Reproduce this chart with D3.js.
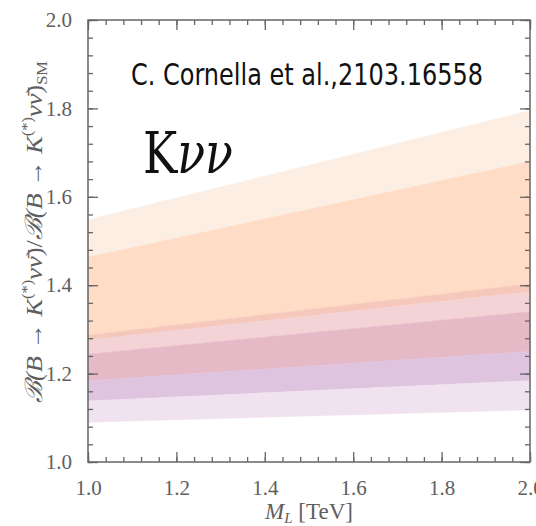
<!DOCTYPE html>
<html>
<head>
<meta charset="utf-8">
<script src="https://cdn.jsdelivr.net/npm/d3@7"></script>
<style>
  html, body { margin: 0; padding: 0; background: #fff; }
  svg { display: block; }
</style>
</head>
<body>
<div id="container"></div>
<script>
// M_L end points of every band (TeV)
const massPoints = [1.0, 2.0];

// band edges, value at M_L = 1.0 and 2.0
const lightPeachTop = [1.548, 1.795];
const peachTop = [1.463, 1.68];
const peachBottom = [1.287, 1.403];
const salmonBottom = [1.276, 1.385];
const pinkBottom = [1.244, 1.34];
const mauveBottom = [1.184, 1.25];
const lilacBottom = [1.138, 1.184];
const lavenderBottom = [1.09, 1.118];

const bandColors = ['#fdeee3', '#fedcc5', '#f6c8bb', '#f3d3d6', '#e6b9c7', '#dfc4df', '#f0e2ef'];
const bandEdges = [lightPeachTop, peachTop, peachBottom, salmonBottom, pinkBottom, mauveBottom, lilacBottom, lavenderBottom];

const xTicks = [1.0, 1.2, 1.4, 1.6, 1.8, 2.0];
const yTicks = [1.0, 1.2, 1.4, 1.6, 1.8, 2.0];

const WIDTH = 536;
const HEIGHT = 526;
const margin = { top: 20, right: 6, bottom: 64, left: 88 };
const innerW = WIDTH - margin.left - margin.right;
const innerH = HEIGHT - margin.top - margin.bottom;

const AXIS_COLOR = '#666';
const LABEL_COLOR = '#5e5e5e';
const SERIF = '"Liberation Serif", "DejaVu Serif", serif';

const svg = d3
  .select('#container')
  .append('svg')
  .attr('width', WIDTH)
  .attr('height', HEIGHT);

const g = svg
  .append('g')
  .attr('transform', `translate(${margin.left}, ${margin.top})`);

const x = d3.scaleLinear().domain([1.0, 2.0]).range([0, innerW]);
const y = d3.scaleLinear().domain([1.0, 2.0]).range([innerH, 0]);

// bands
const bands = bandColors.map((c, i) => ({
  color: c,
  top: bandEdges[i],
  bottom: bandEdges[i + 1],
}));

const area = d3
  .area()
  .x((d) => x(d.m))
  .y0((d) => y(d.lo))
  .y1((d) => y(d.hi));

g.selectAll('path.band')
  .data(bands)
  .enter()
  .append('path')
  .attr('class', 'band')
  .attr('fill', (d) => d.color)
  .attr('stroke', (d) => d.color)
  .attr('stroke-width', 0.5)
  .attr('d', (d) =>
    area(massPoints.map((m, j) => ({ m: m, hi: d.top[j], lo: d.bottom[j] })))
  );

// axes with inward ticks on all four sides
const minorX = d3.range(1.0, 2.0001, 0.04);
const minorY = d3.range(1.0, 2.0001, 0.04);

function styleAxis(sel) {
  sel.select('.domain').remove();
  sel.selectAll('line').attr('stroke', AXIS_COLOR).attr('stroke-width', 1.3);
  sel
    .selectAll('text')
    .attr('fill', LABEL_COLOR)
    .style('font-family', SERIF)
    .style('font-size', '21px');
}

const sides = [
  { make: () => d3.axisBottom(x), tr: `translate(0, ${innerH})`, minor: minorX, major: xTicks, labels: true, pad: 18 },
  { make: () => d3.axisTop(x), tr: 'translate(0, 0)', minor: minorX, major: xTicks, labels: false, pad: 4 },
  { make: () => d3.axisLeft(y), tr: 'translate(0, 0)', minor: minorY, major: yTicks, labels: true, pad: 16 },
  { make: () => d3.axisRight(y), tr: `translate(${innerW}, 0)`, minor: minorY, major: yTicks, labels: false, pad: 4 },
];

sides.forEach((a) => {
  const minorAxis = g
    .append('g')
    .attr('transform', a.tr)
    .call(a.make().tickValues(a.minor).tickSize(-5).tickFormat(''));
  styleAxis(minorAxis);

  const majorAxis = g
    .append('g')
    .attr('transform', a.tr)
    .call(
      a
        .make()
        .tickValues(a.major)
        .tickSizeInner(-10)
        .tickSizeOuter(0)
        .tickPadding(a.pad)
        .tickFormat(a.labels ? d3.format('.1f') : '')
    );
  styleAxis(majorAxis);
});

// frame
g.append('rect')
  .attr('width', innerW)
  .attr('height', innerH)
  .attr('fill', 'none')
  .attr('stroke', AXIS_COLOR)
  .attr('stroke-width', 1.5);

// x axis title
const xTitle = svg
  .append('text')
  .attr('x', margin.left + innerW / 2)
  .attr('y', 519)
  .attr('text-anchor', 'middle')
  .attr('fill', LABEL_COLOR)
  .style('font-family', SERIF)
  .style('font-size', '23px');
xTitle.append('tspan').style('font-style', 'italic').text('M');
xTitle
  .append('tspan')
  .style('font-style', 'italic')
  .style('font-size', '15px')
  .attr('dy', 4)
  .text('L');
xTitle.append('tspan').attr('dy', -4).text('\u00a0[TeV]');

// y axis title
const yTitle = svg
  .append('text')
  .attr('transform', 'translate(42, 232) rotate(-90)')
  .attr('text-anchor', 'middle')
  .attr('textLength', 342)
  .attr('lengthAdjust', 'spacingAndGlyphs')
  .attr('fill', LABEL_COLOR)
  .style('font-family', SERIF)
  .style('font-size', '24px');

function ratioPart(sel) {
  sel.append('tspan').style('font-style', 'italic').text('\u212C(B → K');
  sel.append('tspan').style('font-size', '15px').attr('dy', -10).text('(*)');
  sel.append('tspan').style('font-style', 'italic').attr('dy', 10).text('νν\u0304');
  sel.append('tspan').text(')');
}
ratioPart(yTitle);
yTitle.append('tspan').text('/');
ratioPart(yTitle);
yTitle.append('tspan').style('font-size', '15px').attr('dy', 5).text('SM');

// annotations
svg
  .append('text')
  .attr('x', 131)
  .attr('y', 85)
  .attr('textLength', 352)
  .attr('lengthAdjust', 'spacingAndGlyphs')
  .attr('fill', '#111')
  .style('font-family', '"Liberation Sans Narrow", "DejaVu Sans Condensed", "Liberation Sans", sans-serif')
  .style('font-stretch', 'condensed')
  .style('font-size', '31px')
  .text('C. Cornella et al.,2103.16558');

const kvv = svg
  .append('text')
  .attr('x', 143)
  .attr('y', 173)
  .attr('textLength', 90)
  .attr('lengthAdjust', 'spacingAndGlyphs')
  .attr('fill', '#111')
  .style('font-family', '"DejaVu Serif", "Liberation Serif", serif')
  .style('font-size', '57px');
kvv.append('tspan').text('K');
kvv.append('tspan').style('font-style', 'italic').text('νν');
</script>
</body>
</html>
